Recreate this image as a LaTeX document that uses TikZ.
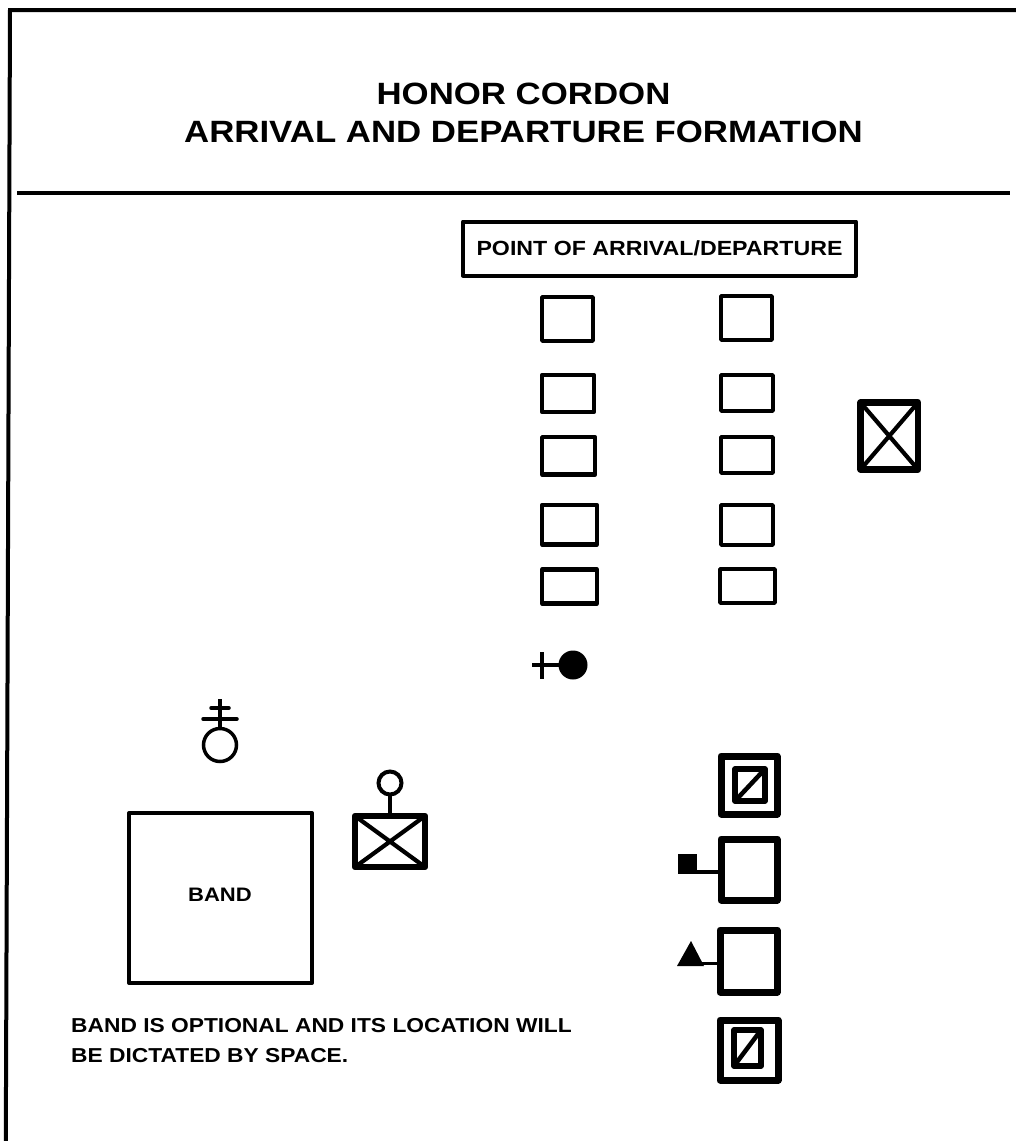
\documentclass[tikz,border=0pt]{standalone}
\usepackage{fontspec}
\setmainfont{Liberation Sans}
\newfontfamily\widebold[FakeStretch=1.13]{Liberation Sans}
\newcommand{\bx}[6][]{\node[boxshape,#1,minimum width={(#5-#3)*1pt},minimum height={(#6-#4)*1pt}] (#2) at ({(#3+#5)/2},{(#4+#6)/2}) {};}
\tikzset{
  boxshape/.style={draw=black,rectangle,inner sep=0pt,outer sep=0pt,line join=round},
  cordon/.style={line width=4.5pt},
  heavy/.style={line width=7pt},
  inner/.style={line width=5.5pt},
  crossline/.style={line width=4.2pt},
  thin stem/.style={draw=black,line width=3.5pt},
  title text/.style={font=\widebold\bfseries\fontsize{30.8}{38}\selectfont,align=center,inner sep=0pt},
  label text/.style={font=\widebold\bfseries\fontsize{19.5}{28}\selectfont,inner sep=0pt},
  ring/.style={circle,draw=black,inner sep=0pt,outer sep=0pt},
}
\begin{document}
\begin{tikzpicture}[x=1pt,y=-1pt]
\useasboundingbox (0,0) rectangle (1016,1141);
\fill[white] (0,0) rectangle (1016,1141);
% frame
\coordinate (frameTL) at (10,10);
\coordinate (frameTR) at (1016,10);
\coordinate (frameBL) at (5.8,1141);
\coordinate (ruleL) at (17,193);
\coordinate (ruleR) at (1010,193);
\draw[line width=4pt] (frameBL) -- (frameTL) -- (frameTR);
\draw[line width=4pt] (ruleL) -- (ruleR);
% title
\node[title text] (title) at (523.5,113) {HONOR CORDON\\ARRIVAL AND DEPARTURE FORMATION};
% arrival box
\node[boxshape,line width=4pt,minimum width=393pt,minimum height=54pt,font=\widebold\bfseries\fontsize{20.5}{24}\selectfont] (point) at (659.5,248.5) {POINT OF ARRIVAL/DEPARTURE};
% cordon columns
\bx[cordon]{a1}{542.2}{297.2}{592.8}{340.8}
\bx[cordon]{a2}{542.2}{375}{593.8}{412}
\bx[cordon]{a3}{542.2}{437.2}{595}{474.5}
\bx[cordon]{a4}{542.2}{505}{596.8}{544.5}
\bx[cordon]{a5}{542.2}{569.5}{596.8}{603.5}
\bx[cordon]{b1}{721.2}{296.2}{771.8}{339.8}
\bx[cordon]{b2}{721.2}{375.2}{772.8}{410.8}
\bx[cordon]{b3}{721.2}{437.2}{772.8}{472.8}
\bx[cordon]{b4}{721.2}{505.2}{772.8}{544.8}
\bx[cordon]{b5}{720.2}{569.2}{774.8}{602.8}
% commander box right
\bx[line width=6.5pt]{cmd}{860.5}{402.5}{918}{469.5}
\draw[crossline] (cmd.north west) -- (cmd.south east) (cmd.north east) -- (cmd.south west);
% officer in charge
\node[circle,fill=black,inner sep=0pt,minimum size=29pt,outer sep=0pt] (oic) at (573,665) {};
\coordinate (oicTail) at (532,665);
\coordinate (oicBarT) at (542,652);
\coordinate (oicBarB) at (542,679);
\draw[thin stem] (oic) -- (oicTail);
\draw[thin stem] (oicBarT) -- (oicBarB);
% ring with cross bars
\node[ring,line width=3.5pt,minimum size=33pt] (chap) at (220,745) {};
\coordinate (chapTop) at (220,699);
\coordinate (barAL) at (203,719);
\coordinate (barAR) at (237,719);
\coordinate (barBL) at (211,708);
\coordinate (barBR) at (229,708);
\draw[thin stem] (chap.north) -- (chapTop);
\draw[thin stem,line cap=round] (barAL) -- (barAR);
\draw[thin stem,line cap=round] (barBL) -- (barBR);
% band
\node[boxshape,line width=4pt,minimum width=183pt,minimum height=170pt] (band) at (220.5,898) {};
\node[label text] (bandlabel) at (220,895) {BAND};
% band leader
\bx[line width=6.5pt]{lead}{355}{816}{425}{867}
\draw[crossline] (lead.north west) -- (lead.south east) (lead.north east) -- (lead.south west);
\node[ring,line width=4pt,minimum size=23pt] (leadRing) at (390,783) {};
\draw[line width=3.5pt] (leadRing.south) -- (lead.north);
% right column
\bx[heavy]{c1}{721}{756}{777}{814}
\bx[inner]{c1i}{735}{769}{765}{801}
\draw[line width=4.5pt] (c1i.south west) -- (c1i.north east);
\bx[heavy]{c2}{721}{839}{777}{900}
\node[fill=black,inner sep=0pt,outer sep=0pt,minimum width=19pt,minimum height=20pt] (flagsq) at (687.5,864) {};
\coordinate (flagA) at (697,872);
\coordinate (flagB) at (721,872);
\draw[line width=3.5pt] (flagA) -- (flagB);
\bx[heavy]{c3}{720}{930}{777}{992}
\coordinate (triL) at (677,966);
\coordinate (triT) at (691,941);
\coordinate (triR) at (704,966);
\coordinate (triS) at (698,963.5);
\coordinate (triE) at (720,963.5);
\fill[line join=round] (triL) -- (triT) -- (triR) -- cycle;
\draw[line width=3.5pt] (triS) -- (triE);
\bx[heavy]{c4}{720}{1020}{778}{1080}
\bx[inner]{c4i}{734}{1030}{761}{1066}
\draw[line width=4.5pt] (c4i.south west) -- (c4i.north east);
% note
\node[font=\widebold\bfseries\fontsize{20.15}{30}\selectfont,align=left,inner sep=0pt,anchor=west] (note) at (71,1041) {BAND IS OPTIONAL AND ITS LOCATION WILL\\BE DICTATED BY SPACE.};
\end{tikzpicture}
\end{document}
